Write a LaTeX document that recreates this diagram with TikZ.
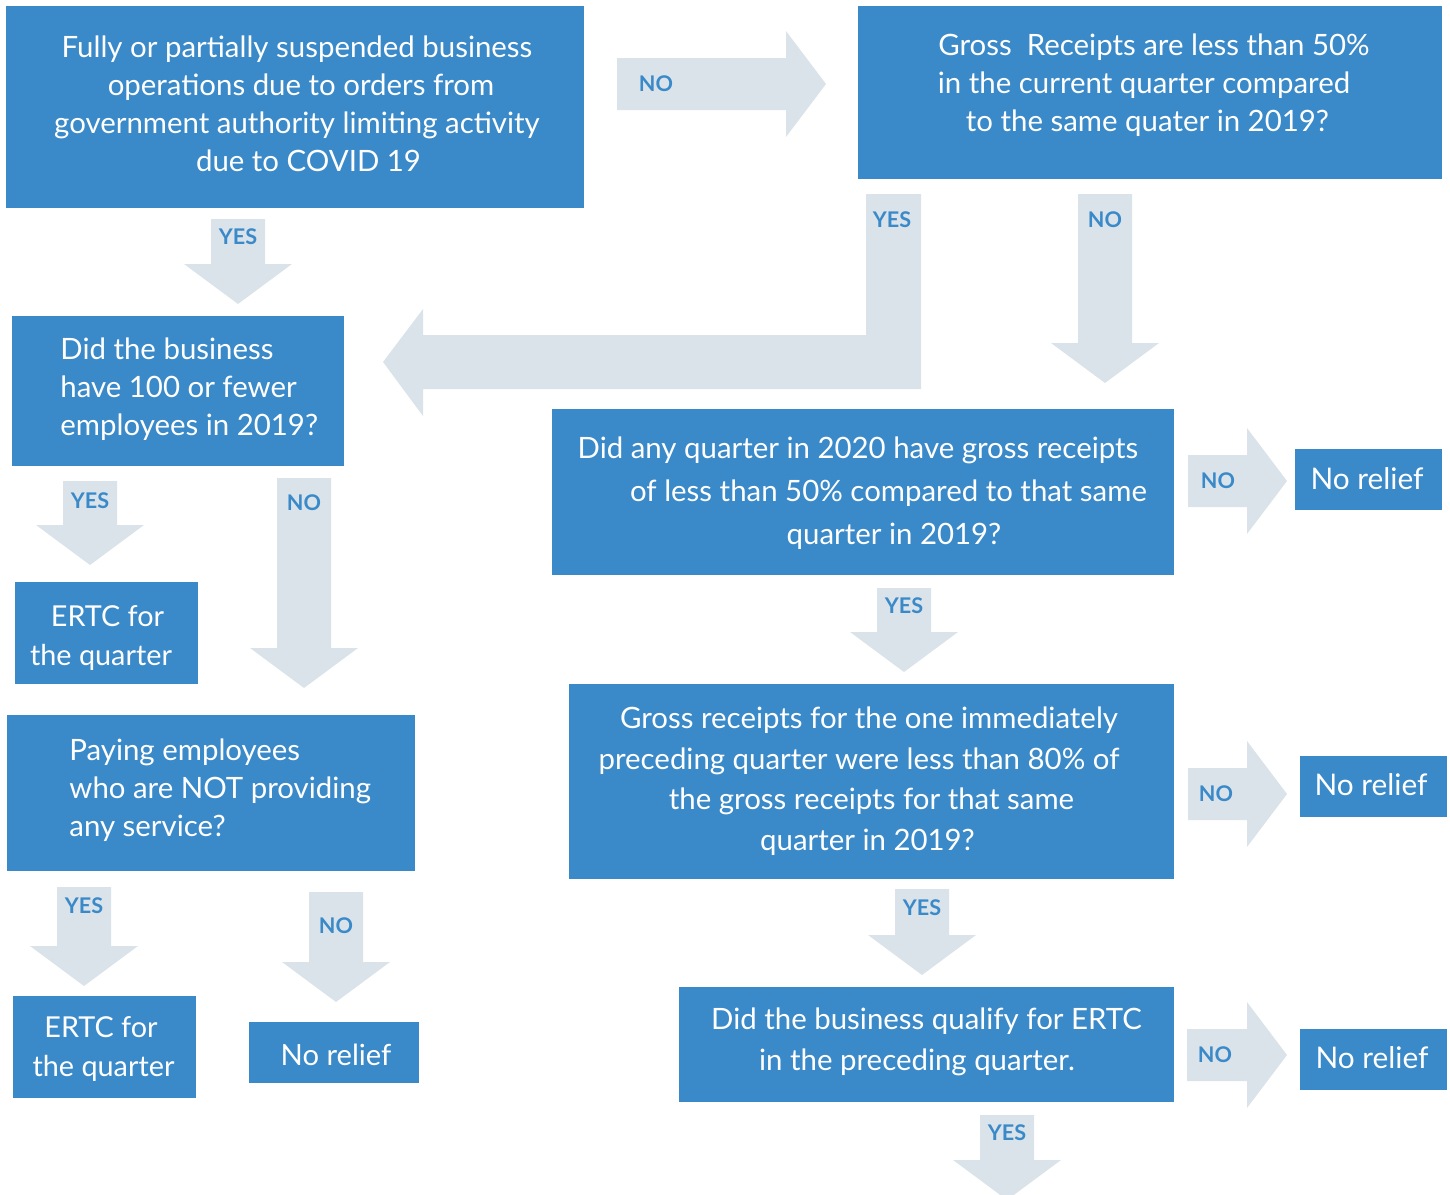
\documentclass[tikz,border=0pt]{standalone}
\usepackage{fontspec}
\setmainfont{Lato}
\definecolor{boxblue}{HTML}{3A89C9}
\definecolor{arrowgray}{HTML}{DAE3E9}
\tikzset{
  box/.style={fill=boxblue, inner sep=0pt},
  btext/.style={text=white, inner sep=0pt, align=center, font=\fontsize{14.7}{19}\selectfont},
  lab/.style={text=boxblue, font=\bfseries\fontsize{10.8}{12}\selectfont, inner sep=0pt},
  blockarrow/.style={fill=arrowgray}
}
% x center, y top, y tip, label y, label text, label name
\newcommand\DArrow[6]{%
  \fill[blockarrow] ({#1-27},#2) -- ({#1+27},#2) -- ({#1+27},{#3-40}) -- ({#1+54},{#3-40}) -- (#1,#3) -- ({#1-54},{#3-40}) -- ({#1-27},{#3-40}) -- cycle;
  \node[lab] (#6) at (#1,#4) {#5};
}
% x left, y center, x tip, label x, label text, label name
\newcommand\RArrow[6]{%
  \fill[blockarrow] (#1,{#2-26}) -- ({#3-40},{#2-26}) -- ({#3-40},{#2-53}) -- (#3,#2) -- ({#3-40},{#2+53}) -- ({#3-40},{#2+26}) -- (#1,{#2+26}) -- cycle;
  \node[lab] (#6) at (#4,#2) {#5};
}
\begin{document}
\begin{tikzpicture}[x=0.5pt,y=-0.5pt]
\useasboundingbox (0,0) rectangle (1450,1194);

% boxes
\node[box, minimum width=289pt, minimum height=101pt] (q1) at (295,107) {};
\node[btext] (q1t) at (297,103.5)
  {Fully or partially suspended business\\\hspace*{4pt}operations due to orders from\\government authority limiting activity\\\hspace*{11.5pt}due to COVID 19};

\node[box, minimum width=292pt, minimum height=86.5pt] (q2) at (1150,92.5) {};
\node[btext] (q2t) at (1150,85)
  {\hspace*{4pt}Gross\ \ Receipts are less than 50\%\\\hspace*{-6pt}in the current quarter compared\\\hspace*{-2.5pt}to the same quater in 2019?};

\node[box, minimum width=166pt, minimum height=75pt] (q3) at (178,391) {};
\node[btext, align=left, anchor=west] (q3t) at (60,389)
  {Did the business\\have 100 or fewer\\employees in 2019?};

\node[box, minimum width=311pt, minimum height=83pt] (q4) at (863,492) {};
\node[btext, font=\fontsize{14.7}{21.5}\selectfont] (q4t) at (863,493)
  {\hspace*{-5pt}Did any quarter in 2020 have gross receipts\\\hspace*{25.5pt}of less than 50\% compared to that same\\\hspace*{31pt}quarter in 2019?};

\node[box, minimum width=73.5pt, minimum height=30.5pt] (nr1) at (1368.5,479.5) {};
\node[btext, font=\fontsize{14.9}{19}\selectfont] (nr1t) at (1367,478.5) {No relief};

\node[box, minimum width=91.5pt, minimum height=51pt] (e1) at (106.5,633) {};
\node[btext, font=\fontsize{14.4}{19.5}\selectfont] (e1t) at (101,638)
  {\hspace*{6.5pt}ERTC for\\the quarter};

\node[box, minimum width=302.5pt, minimum height=97.5pt] (q5) at (871.5,781.5) {};
\node[btext, font=\fontsize{14.7}{20.3}\selectfont] (q5t) at (871.5,781)
  {\hspace*{-2.5pt}Gross receipts for the one immediately\\\hspace*{-12.5pt}preceding quarter were less than 80\% of\\the gross receipts for that same\\\hspace*{-4pt}quarter in 2019?};

\node[box, minimum width=73.5pt, minimum height=30.5pt] (nr2) at (1373.5,786.5) {};
\node[btext, font=\fontsize{14.9}{19}\selectfont] (nr2t) at (1371,784.5) {No relief};

\node[box, minimum width=204pt, minimum height=78pt] (q6) at (211,793) {};
\node[btext, align=left, anchor=west] (q6t) at (69,790)
  {Paying employees\\who are NOT providing\\any service?};

\node[box, minimum width=91.5pt, minimum height=51pt] (e2) at (104.5,1047) {};
\node[btext, font=\fontsize{14.4}{19.5}\selectfont] (e2t) at (103.5,1049)
  {\hspace*{-2.5pt}ERTC for\\the quarter};

\node[box, minimum width=85pt, minimum height=30.5pt] (nr3) at (334,1052.5) {};
\node[btext, font=\fontsize{14.6}{19}\selectfont] (nr3t) at (336,1054.5) {No relief};

\node[box, minimum width=247.5pt, minimum height=57.5pt] (q7) at (926.5,1044.5) {};
\node[btext, font=\fontsize{14.7}{20.5}\selectfont] (q7t) at (926.5,1041.5)
  {Did the business qualify for ERTC\\\hspace*{-9.5pt}in the preceding quarter.};

\node[box, minimum width=73.5pt, minimum height=30.5pt] (nr4) at (1373.5,1059.5) {};
\node[btext, font=\fontsize{14.9}{19}\selectfont] (nr4t) at (1372,1057.5) {No relief};

% arrows
\RArrow{617}{84}{826}{656}{NO}{l1}
\DArrow{238}{219}{304}{237}{YES}{l2}
\fill[blockarrow] (866,194) -- (921,194) -- (921,389) -- (423,389) -- (423,416) -- (383,362) -- (423,309) -- (423,335) -- (866,335) -- cycle;
\node[lab] (l3) at (892,220) {YES};
\DArrow{1105}{194}{383}{220}{NO}{l4}
\RArrow{1188}{481}{1287}{1218}{NO}{l5}
\DArrow{90}{481}{565}{501}{YES}{l6}
\DArrow{304}{478}{688}{503}{NO}{l7}
\DArrow{904}{588}{672}{606}{YES}{l8}
\RArrow{1188}{794}{1287}{1216}{NO}{l9}
\DArrow{84}{887}{986}{906}{YES}{l10}
\DArrow{336}{892}{1002}{926}{NO}{l11}
\DArrow{922}{889}{975}{908}{YES}{l12}
\RArrow{1187}{1055}{1287}{1215}{NO}{l13}
\DArrow{1007}{1115}{1200}{1133}{YES}{l14}
\end{tikzpicture}
\end{document}
